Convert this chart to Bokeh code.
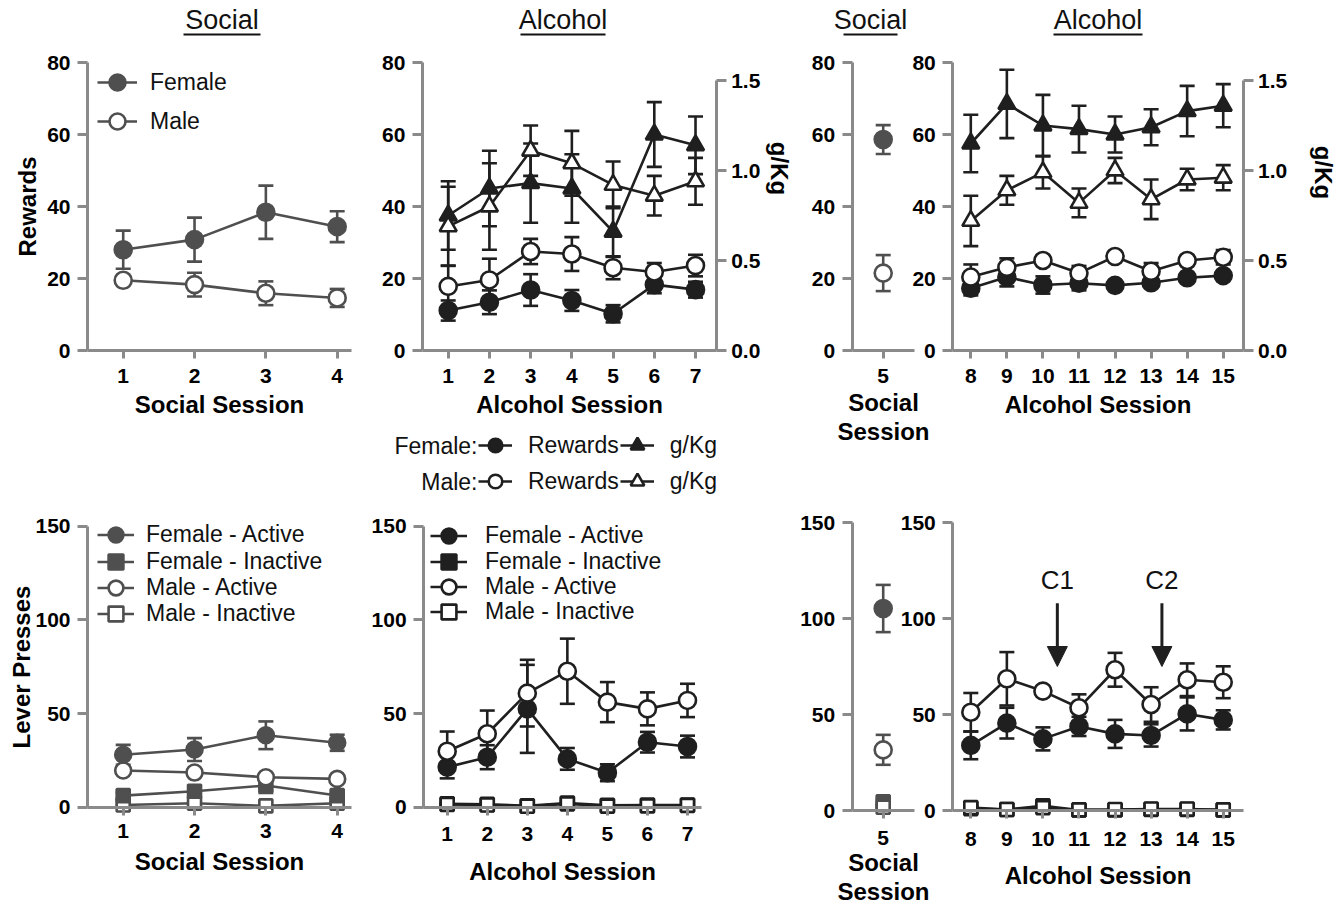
import numpy as np
from bokeh.plotting import figure
from bokeh.models import (Range1d, LinearAxis, FixedTicker, Whisker, TeeHead,
                          ColumnDataSource, Legend, LegendItem, Label, Arrow,
                          NormalHead, PrintfTickFormatter)
from bokeh.embed import file_html
from bokeh.resources import INLINE

W, H = 1336, 905
FONT = "Liberation Sans"
AXC = "#8a8a8a"
SOC = "#4f4f4f"
ALC = "#1f1f1f"

# ---------------- data ----------------
social_x1 = [1, 2, 3, 4]
alcohol_x1 = [1, 2, 3, 4, 5, 6, 7]
social_x2 = [5]
alcohol_x2 = [8, 9, 10, 11, 12, 13, 14, 15]

# Rewards / g/Kg (top row)
soc1_rew_f = [28.0, 30.8, 38.4, 34.4]
soc1_rew_f_sem = [5.3, 6.1, 7.4, 4.3]
soc1_rew_m = [19.5, 18.3, 15.9, 14.6]
soc1_rew_m_sem = [1.0, 3.3, 3.3, 2.5]

alc1_rew_f = [11.1, 13.4, 16.8, 13.9, 10.2, 18.3, 16.9]
alc1_rew_f_sem = [2.8, 3.3, 4.4, 2.9, 2.4, 2.4, 2.2]
alc1_rew_m = [17.8, 19.6, 27.5, 26.8, 23.0, 21.8, 23.6]
alc1_rew_m_sem = [5.8, 5.9, 3.5, 4.7, 3.2, 2.5, 3.0]
alc1_gkg_f = [0.75, 0.90, 0.93, 0.90, 0.66, 1.20, 1.14]
alc1_gkg_f_sem = [0.19, 0.21, 0.22, 0.19, 0.14, 0.18, 0.16]
alc1_gkg_m = [0.69, 0.80, 1.11, 1.04, 0.92, 0.86, 0.94]
alc1_gkg_m_sem = [0.22, 0.24, 0.14, 0.18, 0.13, 0.11, 0.13]

soc2_rew_f = [58.6]
soc2_rew_f_sem = [4.0]
soc2_rew_m = [21.5]
soc2_rew_m_sem = [5.0]

alc2_rew_f = [17.3, 20.4, 18.2, 18.7, 18.1, 18.8, 20.2, 20.8]
alc2_rew_f_sem = [2.0, 2.6, 2.4, 2.0, 0.5, 0.8, 1.0, 1.0]
alc2_rew_m = [20.4, 23.1, 25.0, 21.5, 26.1, 22.0, 25.0, 25.9]
alc2_rew_m_sem = [3.5, 2.5, 1.0, 2.0, 1.0, 2.3, 1.0, 2.0]
alc2_gkg_f = [1.15, 1.37, 1.25, 1.23, 1.20, 1.24, 1.33, 1.36]
alc2_gkg_f_sem = [0.16, 0.19, 0.17, 0.13, 0.10, 0.10, 0.14, 0.12]
alc2_gkg_m = [0.72, 0.89, 0.99, 0.82, 1.00, 0.84, 0.95, 0.96]
alc2_gkg_m_sem = [0.14, 0.08, 0.09, 0.08, 0.07, 0.11, 0.06, 0.07]

# Lever presses (bottom row)
soc1_act_f = [28.0, 30.8, 38.4, 34.4]
soc1_act_f_sem = [5.3, 6.1, 7.4, 4.3]
soc1_ina_f = [6.2, 8.5, 11.6, 6.2]
soc1_ina_f_sem = [1.5, 3.0, 4.0, 1.5]
soc1_act_m = [19.6, 18.5, 16.0, 15.1]
soc1_act_m_sem = [1.0, 2.0, 2.0, 1.5]
soc1_ina_m = [1.2, 2.1, 0.7, 2.1]
soc1_ina_m_sem = [0.5, 0.8, 0.4, 0.8]

alc1_act_f = [21.4, 26.7, 52.5, 25.8, 18.4, 34.7, 32.4]
alc1_act_f_sem = [6.0, 6.4, 23.5, 5.8, 4.5, 5.5, 5.8]
alc1_ina_f = [1.8, 1.5, 0.8, 2.2, 1.0, 1.2, 1.2]
alc1_ina_f_sem = [0.6, 0.5, 0.4, 0.7, 0.4, 0.5, 0.5]
alc1_act_m = [29.9, 39.2, 60.9, 72.6, 56.1, 52.5, 57.0]
alc1_act_m_sem = [10.5, 12.4, 17.8, 17.4, 10.7, 8.8, 8.9]
alc1_ina_m = [1.5, 1.2, 0.5, 1.8, 0.6, 0.7, 1.0]
alc1_ina_m_sem = [0.5, 0.4, 0.3, 0.6, 0.3, 0.3, 0.4]

soc2_act_f = [105.2]
soc2_act_f_sem = [12.3]
soc2_ina_f = [4.5]
soc2_ina_f_sem = [1.5]
soc2_act_m = [31.6]
soc2_act_m_sem = [7.8]
soc2_ina_m = [1.7]
soc2_ina_m_sem = [0.8]

alc2_act_f = [33.9, 45.5, 37.3, 43.8, 39.9, 39.1, 50.3, 47.2]
alc2_act_f_sem = [7.2, 8.0, 6.0, 5.0, 7.3, 5.8, 8.6, 5.0]
alc2_ina_f = [1.0, 0.5, 2.5, 0.3, 0.3, 0.5, 0.5, 0.3]
alc2_ina_f_sem = [0.4, 0.3, 0.8, 0.2, 0.2, 0.3, 0.3, 0.2]
alc2_act_m = [51.2, 68.6, 62.2, 53.5, 73.3, 55.2, 68.1, 66.8]
alc2_act_m_sem = [10.0, 13.9, 2.5, 7.0, 8.8, 9.0, 8.5, 8.3]
alc2_ina_m = [1.5, 0.5, 1.5, 0.3, 0.5, 0.8, 0.8, 0.3]
alc2_ina_m_sem = [0.5, 0.3, 0.5, 0.2, 0.3, 0.3, 0.3, 0.2]

rewards_ticks = [0, 20, 40, 60, 80]
gkg_ticks = [0.0, 0.5, 1.0, 1.5]
presses_ticks = [0, 50, 100, 150]
challenge_sessions = [10.4, 13.3]
challenge_labels = ["C1", "C2"]

# ---------------- figure ----------------
p = figure(width=W, height=H, x_range=Range1d(0, W), y_range=Range1d(H, 0),
           x_axis_type=None, y_axis_type=None, toolbar_location=None,
           output_backend="svg", min_border=0, outline_line_color=None, title=None)
p.background_fill_color = "white"
p.border_fill_color = "white"


def xrange_(px_at, d_at, ppu):
    return Range1d(d_at - px_at / ppu, d_at + (W - px_at) / ppu)


def yrange_(py0, ppu):
    return Range1d((py0 - H) / ppu, py0 / ppu)


p.extra_x_ranges = {
    "xA": xrange_(122.7, 1, 71.33),
    "xB": xrange_(447.7, 1, 41.22),
    "xC": xrange_(882.7, 5, 62.0),
    "xD": xrange_(970.3, 8, 36.06),
    "xBb": xrange_(446.7, 1, 40.05),
}
p.extra_y_ranges = {
    "yT": yrange_(350, 3.6),
    "gT": yrange_(350, 180.0),
    "yBL": yrange_(806.7, 1.873),
    "yBR": yrange_(810, 1.92),
}


def style_axis(ax, tick_out, tick_standoff, label_standoff):
    ax.axis_line_color = AXC
    ax.axis_line_width = 3
    ax.major_tick_line_color = AXC
    ax.major_tick_line_width = 3
    ax.major_tick_out = tick_out
    ax.major_tick_in = 0
    ax.minor_tick_line_color = None
    ax.major_label_text_font = FONT
    ax.major_label_text_font_size = "21px"
    ax.major_label_text_font_style = "bold"
    ax.major_label_text_color = "black"
    ax.major_label_standoff = tick_standoff
    ax.axis_label_text_font = FONT
    ax.axis_label_text_font_size = "24px"
    ax.axis_label_text_font_style = "bold"
    ax.axis_label_text_color = "black"
    ax.axis_label_text_line_height = 1.08
    try:
        ax.axis_label_standoff = label_standoff
    except Exception:
        ax.axis_label_standoff = 0


def add_axes(xn, yn, x_lo, x_hi, y_hi, yticks, xticks, xlabel, ylabel=None,
             x_tick_standoff=10, x_label_standoff=5, y_label_standoff=4):
    ya = LinearAxis(x_range_name=xn, y_range_name=yn, fixed_location=x_lo,
                    bounds=(0, y_hi), ticker=FixedTicker(ticks=yticks),
                    axis_label=ylabel)
    style_axis(ya, 10, 7, y_label_standoff)
    p.add_layout(ya, "left")
    xa = LinearAxis(x_range_name=xn, y_range_name=yn, fixed_location=0,
                    bounds=(x_lo, x_hi), ticker=FixedTicker(ticks=xticks),
                    axis_label=xlabel)
    style_axis(xa, 8, x_tick_standoff, x_label_standoff)
    p.add_layout(xa, "below")


def add_right_axis(xn, yn, x_loc, label_x, label_y):
    ra = LinearAxis(x_range_name=xn, y_range_name=yn, fixed_location=x_loc,
                    bounds=(0, 1.5), ticker=FixedTicker(ticks=gkg_ticks),
                    formatter=PrintfTickFormatter(format="%.1f"))
    style_axis(ra, 10, 5, 4)
    p.add_layout(ra, "right")
    p.add_layout(Label(x=label_x, y=label_y, text="g/Kg", angle=-np.pi / 2,
                       text_align="center", text_baseline="middle",
                       text_font=FONT, text_font_size="24px", text_font_style="bold",
                       text_color="black"))


def draw_series(xn, specs, connect=True):
    """specs: list of (x, y, sem, yn, marker, fill, color, size)."""
    for (x, y, sem, yn, marker, fill, color, size) in specs:
        y = np.asarray(y, dtype=float)
        sem = np.asarray(sem, dtype=float)
        src = ColumnDataSource(dict(x=list(x), lo=list(y - sem), hi=list(y + sem)))
        wk = Whisker(source=src, base="x", lower="lo", upper="hi", dimension="height",
                     line_color=color, line_width=2.6,
                     upper_head=TeeHead(size=15, line_color=color, line_width=2.6),
                     lower_head=TeeHead(size=15, line_color=color, line_width=2.6),
                     x_range_name=xn, y_range_name=yn)
        p.add_layout(wk)
    lines = []
    for (x, y, sem, yn, marker, fill, color, size) in specs:
        if connect:
            lines.append(p.line(list(x), list(y), line_color=color, line_width=2.6,
                                x_range_name=xn, y_range_name=yn))
        else:
            lines.append(None)
    marks = []
    for (x, y, sem, yn, marker, fill, color, size) in specs:
        marks.append(p.scatter(list(x), list(y), marker=marker, size=size,
                               fill_color=fill, line_color=color, line_width=2.6,
                               x_range_name=xn, y_range_name=yn))
    return [[r for r in (l, m) if r is not None] for l, m in zip(lines, marks)]


def item_legend(items, x_left, cy, gw, gh, standoff, spacing=0):
    """One legend row (one or more items laid out horizontally), centred on cy."""
    lg = Legend(items=items, location=(x_left, H - (cy + gh / 2.0)),
                orientation="horizontal",
                glyph_width=gw, glyph_height=gh, label_height=gh,
                label_standoff=standoff, padding=0, margin=0, spacing=spacing,
                border_line_color=None, background_fill_alpha=0,
                label_text_font=FONT, label_text_font_size="23px",
                label_text_color="#111111")
    p.add_layout(lg)
    return lg


# ---------------- top row: Rewards ----------------
add_axes("xA", "yT", 0.5, 4.2, 80, rewards_ticks, social_x1, "Social Session", "Rewards",
         y_label_standoff=3)
rA = draw_series("xA", [
    (social_x1, soc1_rew_f, soc1_rew_f_sem, "yT", "circle", SOC, SOC, 17),
    (social_x1, soc1_rew_m, soc1_rew_m_sem, "yT", "circle", "white", SOC, 17),
])
item_legend([LegendItem(label="Female", renderers=rA[0])], 97, 82, 40, 42, 13)
item_legend([LegendItem(label="Male", renderers=rA[1])], 97, 121, 40, 42, 13)

add_axes("xB", "yT", 0.375, 7.5, 80, rewards_ticks, alcohol_x1, "Alcohol Session")
add_right_axis("xB", "gT", 7.5, 779, 168)
rB = draw_series("xB", [
    (alcohol_x1, alc1_gkg_f, alc1_gkg_f_sem, "gT", "triangle", ALC, ALC, 17),
    (alcohol_x1, alc1_gkg_m, alc1_gkg_m_sem, "gT", "triangle", "white", ALC, 17),
    (alcohol_x1, alc1_rew_f, alc1_rew_f_sem, "yT", "circle", ALC, ALC, 17),
    (alcohol_x1, alc1_rew_m, alc1_rew_m_sem, "yT", "circle", "white", ALC, 17),
])
item_legend([LegendItem(label="Rewards", renderers=rB[2]),
             LegendItem(label="g/Kg", renderers=rB[0])], 478, 445, 34, 34, 16, spacing=1)
item_legend([LegendItem(label="Rewards", renderers=rB[3]),
             LegendItem(label="g/Kg", renderers=rB[1])], 478, 481, 34, 34, 16, spacing=1)
for txt, yy in (("Female:", 445), ("Male:", 481)):
    p.add_layout(Label(x=477, y=yy, text=txt, text_align="right", text_baseline="middle",
                       text_font=FONT, text_font_size="23px", text_color="#111111"))

add_axes("xC", "yT", 4.5, 5.5, 80, rewards_ticks, social_x2, "Social\nSession",
         x_label_standoff=3)
draw_series("xC", [
    (social_x2, soc2_rew_f, soc2_rew_f_sem, "yT", "circle", SOC, SOC, 17),
    (social_x2, soc2_rew_m, soc2_rew_m_sem, "yT", "circle", "white", SOC, 17),
], connect=False)

add_axes("xD", "yT", 7.5, 15.55, 80, rewards_ticks, alcohol_x2, "Alcohol Session")
add_right_axis("xD", "gT", 15.55, 1323, 172)
draw_series("xD", [
    (alcohol_x2, alc2_gkg_f, alc2_gkg_f_sem, "gT", "triangle", ALC, ALC, 17),
    (alcohol_x2, alc2_gkg_m, alc2_gkg_m_sem, "gT", "triangle", "white", ALC, 17),
    (alcohol_x2, alc2_rew_f, alc2_rew_f_sem, "yT", "circle", ALC, ALC, 17),
    (alcohol_x2, alc2_rew_m, alc2_rew_m_sem, "yT", "circle", "white", ALC, 17),
])

# ---------------- bottom row: Lever presses ----------------
add_axes("xA", "yBL", 0.5, 4.2, 150, presses_ticks, social_x1, "Social Session",
         "Lever Presses", x_tick_standoff=9, x_label_standoff=6, y_label_standoff=-3)
rBA = draw_series("xA", [
    (social_x1, soc1_ina_m, soc1_ina_m_sem, "yBL", "square", "white", SOC, 13),
    (social_x1, soc1_ina_f, soc1_ina_f_sem, "yBL", "square", SOC, SOC, 13),
    (social_x1, soc1_act_m, soc1_act_m_sem, "yBL", "circle", "white", SOC, 16),
    (social_x1, soc1_act_f, soc1_act_f_sem, "yBL", "circle", SOC, SOC, 16),
])
for lab, rr, cy in (("Female - Active", rBA[3], 534), ("Female - Inactive", rBA[1], 561),
                    ("Male - Active", rBA[2], 587), ("Male - Inactive", rBA[0], 613)):
    item_legend([LegendItem(label=lab, renderers=rr)], 97, cy, 37, 37, 12)

add_axes("xBb", "yBL", 0.41, 7.35, 150, presses_ticks, alcohol_x1, "Alcohol Session",
         x_tick_standoff=12, x_label_standoff=13)
rBB = draw_series("xBb", [
    (alcohol_x1, alc1_ina_f, alc1_ina_f_sem, "yBL", "square", ALC, ALC, 13),
    (alcohol_x1, alc1_ina_m, alc1_ina_m_sem, "yBL", "square", "white", ALC, 13),
    (alcohol_x1, alc1_act_f, alc1_act_f_sem, "yBL", "circle", ALC, ALC, 17),
    (alcohol_x1, alc1_act_m, alc1_act_m_sem, "yBL", "circle", "white", ALC, 17),
])
for lab, rr, cy in (("Female - Active", rBB[2], 535), ("Female - Inactive", rBB[0], 561),
                    ("Male - Active", rBB[3], 586), ("Male - Inactive", rBB[1], 611)):
    item_legend([LegendItem(label=lab, renderers=rr)], 430, cy, 37, 37, 18)

add_axes("xC", "yBR", 4.5, 5.5, 150, presses_ticks, social_x2, "Social\nSession",
         x_tick_standoff=12, x_label_standoff=1)
draw_series("xC", [
    (social_x2, soc2_ina_f, soc2_ina_f_sem, "yBR", "square", SOC, SOC, 13),
    (social_x2, soc2_ina_m, soc2_ina_m_sem, "yBR", "square", "white", SOC, 13),
    (social_x2, soc2_act_f, soc2_act_f_sem, "yBR", "circle", SOC, SOC, 17),
    (social_x2, soc2_act_m, soc2_act_m_sem, "yBR", "circle", "white", SOC, 17),
], connect=False)

add_axes("xD", "yBR", 7.5, 15.55, 150, presses_ticks, alcohol_x2, "Alcohol Session",
         x_tick_standoff=13, x_label_standoff=13)
draw_series("xD", [
    (alcohol_x2, alc2_ina_f, alc2_ina_f_sem, "yBR", "square", ALC, ALC, 13),
    (alcohol_x2, alc2_ina_m, alc2_ina_m_sem, "yBR", "square", "white", ALC, 13),
    (alcohol_x2, alc2_act_f, alc2_act_f_sem, "yBR", "circle", ALC, ALC, 17),
    (alcohol_x2, alc2_act_m, alc2_act_m_sem, "yBR", "circle", "white", ALC, 17),
])

for cx, ctxt in zip(challenge_sessions, challenge_labels):
    p.add_layout(Arrow(end=NormalHead(size=20, fill_color=ALC, line_color=ALC, line_width=1),
                       x_start=cx, y_start=108, x_end=cx, y_end=75,
                       line_color=ALC, line_width=3,
                       x_range_name="xD", y_range_name="yBR"))
    p.add_layout(Label(x=cx, y=120, text=ctxt, text_align="center", text_baseline="middle",
                       text_font=FONT, text_font_size="26px", text_color="#111111",
                       x_range_name="xD", y_range_name="yBR"))

# ---------------- headers ----------------
headers = [("Social", 221.5, 183, 260), ("Alcohol", 562.5, 520, 605),
           ("Social", 870, 843, 897), ("Alcohol", 1097.5, 1053, 1142)]
for txt, cx, x0, x1 in headers:
    p.add_layout(Label(x=cx, y=19, text=txt, text_align="center", text_baseline="middle",
                       text_font=FONT, text_font_size="27px", text_color="#111111"))
p.segment(x0=[h[2] for h in headers], y0=[34] * 4, x1=[h[3] for h in headers],
          y1=[34] * 4, line_color="#111111", line_width=2)

open("out.html", "w").write(file_html(p, INLINE))
